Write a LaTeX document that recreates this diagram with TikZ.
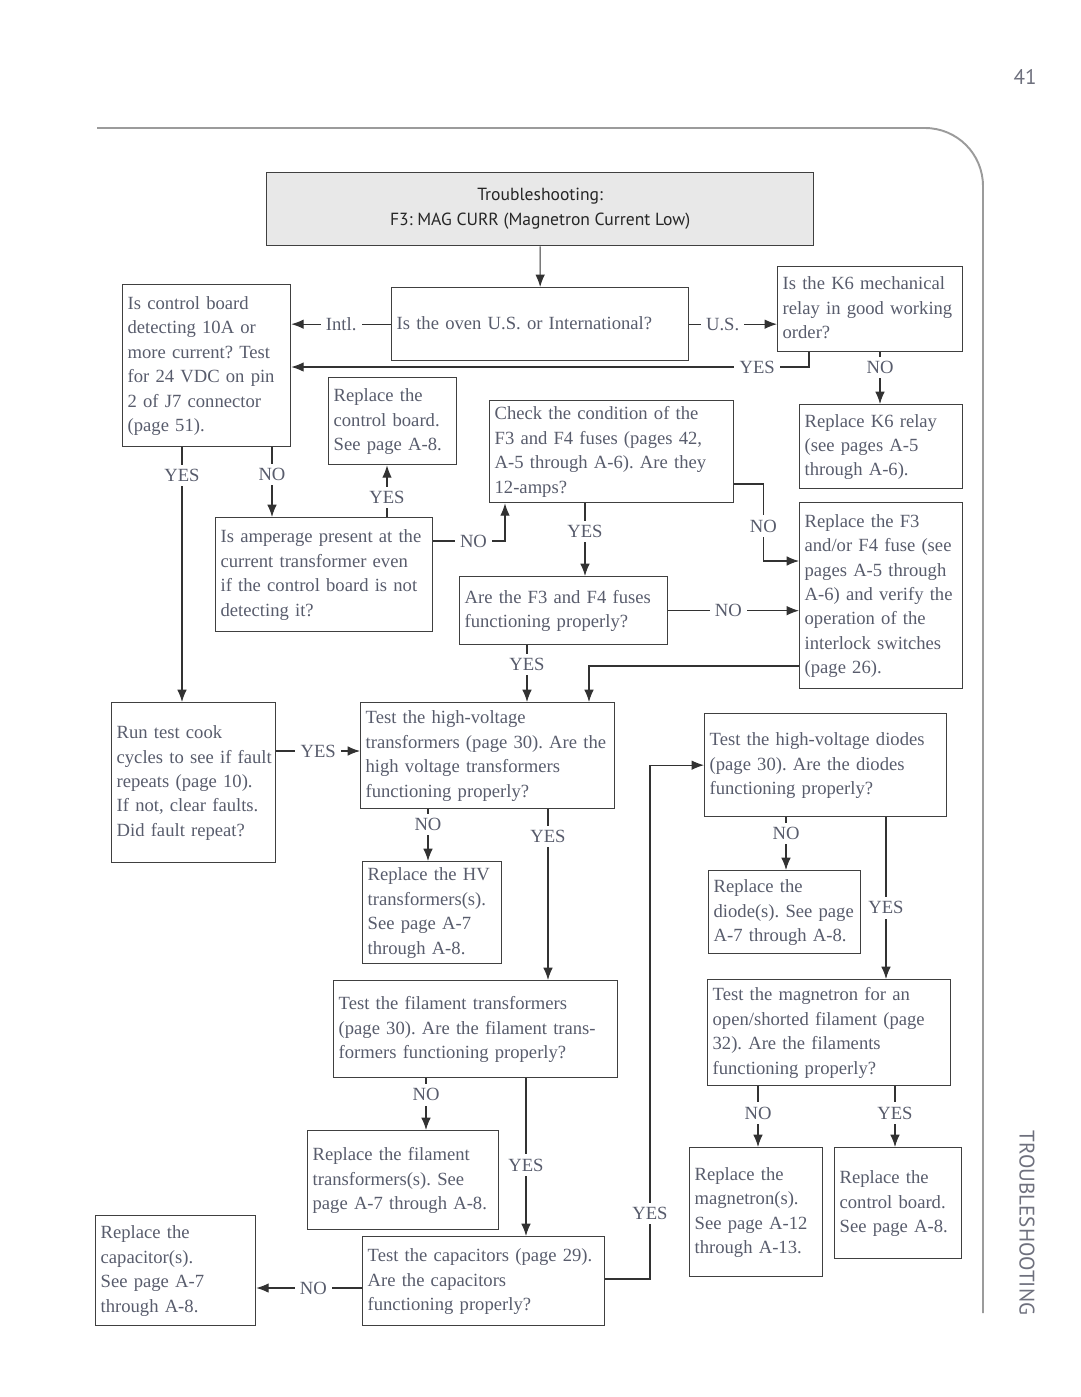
\documentclass[tikz,border=0pt]{standalone}
\usepackage{fontspec}
\setmainfont{Liberation Serif}
\newfontfamily\titlesans{PT Sans}
\usetikzlibrary{arrows.meta}
\frenchspacing

\definecolor{txtgray}{RGB}{88,92,108}
\definecolor{boxgray}{RGB}{64,64,64}
\definecolor{linegray}{RGB}{50,50,50}
\definecolor{framegray}{RGB}{155,155,155}
\definecolor{pagegray}{RGB}{110,112,125}
\definecolor{titlefill}{RGB}{232,232,232}

\newcommand{\bodyfont}{\fontsize{10.6}{13.9}\selectfont}
% lines of a box, never broken
\newcommand{\boxlines}[1]{\begin{tabular}{@{}l@{}}#1\end{tabular}}

\tikzset{
  box/.style 2 args={draw=boxgray, line width=0.75pt, anchor=north west,
    inner xsep=0.1cm, inner ysep=0pt, minimum width=#1*0.02cm,
    minimum height=#2*0.02cm, text width=#1*0.02cm-0.2cm, align=left,
    text=txtgray, font=\bodyfont},
  titlebox/.style={draw=boxgray, line width=0.75pt, fill=titlefill, anchor=north west,
    minimum width=547*0.02cm, minimum height=73*0.02cm, align=center,
    text=black!85, font=\titlesans\fontsize{10}{14.2}\selectfont},
  lbl/.style={fill=white, inner xsep=3pt, inner ysep=2.5pt, text=txtgray, font=\bodyfont},
  arr/.style={draw=linegray, line width=0.6pt, -{Latex[length=7pt,width=5.4pt]}},
  pagetext/.style={text=pagegray, font=\titlesans\fontsize{12}{13}\selectfont},
}

\begin{document}
\begin{tikzpicture}[x=0.02cm, y=-0.02cm]
    \useasboundingbox (0,0) rectangle (1080,1397);

    % Page frame, number and tab text
    \draw[framegray, line width=1.1pt] (97,128) -- (925,128)
        arc[start angle=90, end angle=0, radius=1.16cm] -- (983,1313);
    \node[pagetext] (pagenum) at (1025,77) {41};
    \node[pagetext, rotate=-90] (sidetab) at (1027,1223) {TROUBLESHOOTING};

    % Title
    \node[titlebox] (title) at (266,172) {Troubleshooting:\\F3: MAG CURR (Magnetron Current Low)};

    % Top row
    \node[box={297}{73}] (oven) at (391,287) {\boxlines{Is the oven U.S. or International?}};
    \node[box={168}{162}] (board) at (122,284) {\boxlines{Is control board\\detecting 10A or\\more current? Test\\for 24 VDC on pin\\2 of J7 connector\\(page 51).}};
    \node[box={185}{85}] (relay) at (777,266) {\boxlines{Is the K6 mechanical\\relay in good working\\order?}};
    \node[box={163}{84}] (replK6) at (799,404) {\boxlines{Replace K6 relay\\(see pages A-5\\through A-6).}};

    % Fuse checks
    \node[box={128}{87}] (replboardA) at (328,377) {\boxlines{Replace the\\control board.\\See page A-8.}};
    \node[box={244}{102}] (fuses) at (489,400) {\boxlines{Check the condition of the\\F3 and F4 fuses (pages 42,\\A-5 through A-6). Are they\\12-amps?}};
    \node[box={217}{114}] (amps) at (215,517) {\boxlines{Is amperage present at the\\current transformer even\\if the control board is not\\detecting it?}};
    \node[box={208}{68}] (fuseok) at (459,576) {\boxlines{Are the F3 and F4 fuses\\functioning properly?}};
    \node[box={163}{186}] (replfuse) at (799,502) {\boxlines{Replace the F3\\and/or F4 fuse (see\\pages A-5 through\\A-6) and verify the\\operation of the\\interlock switches\\(page 26).}};

    % Transformers and diodes
    \node[box={164}{160}] (testcook) at (111,702) {\boxlines{Run test cook\\cycles to see if fault\\repeats (page 10).\\If not, clear faults.\\Did fault repeat?}};
    \node[box={254}{106}] (hvtrans) at (360,702) {\boxlines{Test the high-voltage\\transformers (page 30). Are the\\high voltage transformers\\functioning properly?}};
    \node[box={139}{102}] (replhv) at (362,861) {\boxlines{Replace the HV\\transformers(s).\\See page A-7\\through A-8.}};
    \node[box={242}{103}] (diodes) at (704,713) {\boxlines{Test the high-voltage diodes\\(page 30). Are the diodes\\functioning properly?}};
    \node[box={152}{83}] (repldiode) at (708,870) {\boxlines{Replace the\\diode(s). See page\\A-7 through A-8.}};

    % Filaments, magnetron and capacitors
    \node[box={284}{97}] (filament) at (333,980) {\boxlines{Test the filament transformers\\(page 30). Are the filament trans-\\formers functioning properly?}};
    \node[box={243}{106}] (magnetron) at (707,979) {\boxlines{Test the magnetron for an\\open/shorted filament (page\\32). Are the filaments\\functioning properly?}};
    \node[box={191}{99}] (replfil) at (307,1130) {\boxlines{Replace the filament\\transformers(s). See\\page A-7 through A-8.}};
    \node[box={160}{110}] (replcap) at (95,1215) {\boxlines{Replace the\\capacitor(s).\\See page A-7\\through A-8.}};
    \node[box={242}{89}] (caps) at (362,1236) {\boxlines{Test the capacitors (page 29).\\Are the capacitors\\functioning properly?}};
    \node[box={133}{129}] (replmag) at (689,1147) {\boxlines{Replace the\\magnetron(s).\\See page A-12\\through A-13.}};
    \node[box={127}{111}] (replboardB) at (834,1147) {\boxlines{Replace the\\control board.\\See page A-8.}};

    % Connectors, top part
    \draw[arr] (title.south) -- (oven.north);
    \draw[arr] (oven.west) -- node[lbl]{Intl.} (board.east |- oven.west);
    \draw[arr] (oven.east) -- node[lbl, pos=0.38]{U.S.} (relay.west |- oven.east);
    \draw[arr] (relay.south west) ++(32,0) |- node[lbl, pos=0.55]{YES} (board.east |- 0,367);
    \draw[arr] (relay.south -| 880,0) -- node[lbl, pos=0.3]{NO} (replK6.north -| 880,0);
    \draw[arr] (board.south -| 182,0) -- node[lbl, pos=0.11]{YES} (testcook.north -| 182,0);
    \draw[arr] (board.south -| 272,0) -- node[lbl, pos=0.39]{NO} (amps.north -| 272,0);
    \draw[arr] (amps.north -| 387,0) -- node[lbl, pos=0.38]{YES} (replboardA.south -| 387,0);
    \draw[arr] (amps.east |- 0,541) -| node[lbl, pos=0.28]{NO} (fuses.south -| 505,0);

    % Connectors, fuses
    \draw[arr] (fuses.south -| 585,0) -- node[lbl, pos=0.39]{YES} (fuseok.north -| 585,0);
    \draw[arr] (fuses.east |- 0,484) -| ++(29,42) node[lbl]{NO} |- (replfuse.west |- 0,561);
    \draw[arr] (fuseok.east) -- node[lbl, pos=0.46]{NO} (replfuse.west |- fuseok.east);
    \draw[arr] (fuseok.south -| 527,0) -- node[lbl, pos=0.34]{YES} (hvtrans.north -| 527,0);
    \draw[arr] (replfuse.west |- 0,666) -| (hvtrans.north -| 589,0);

    % Connectors, transformers and diodes
    \draw[arr] (testcook.east |- 0,751) -- node[lbl]{YES} (hvtrans.west |- 0,751);
    \draw[arr] (hvtrans.south -| 428,0) -- node[lbl, pos=0.3]{NO} (replhv.north -| 428,0);
    \draw[arr] (hvtrans.south -| 548,0) -- node[lbl, pos=0.16]{YES} (filament.north -| 548,0);
    \draw[arr] (filament.south -| 426,0) -- node[lbl, pos=0.32]{NO} (replfil.north -| 426,0);
    \draw[arr] (filament.south -| 526,0) -- node[lbl, pos=0.55]{YES} (caps.north -| 526,0);
    \draw[arr] (caps.west |- 0,1288) -- node[lbl, pos=0.46]{NO} (replcap.east |- 0,1288);
    \draw[arr] (caps.east |- 0,1279) -| node[lbl, pos=0.564]{YES} (diodes.west -| 650,0) -- (diodes.west);
    \draw[arr] (diodes.south -| 786,0) -- node[lbl, pos=0.31]{NO} (repldiode.north -| 786,0);
    \draw[arr] (diodes.south -| 886,0) -- node[lbl, pos=0.56]{YES} (magnetron.north -| 886,0);
    \draw[arr] (magnetron.south -| 758,0) -- node[lbl, pos=0.44]{NO} (replmag.north -| 758,0);
    \draw[arr] (magnetron.south -| 895,0) -- node[lbl, pos=0.44]{YES} (replboardB.north -| 895,0);
\end{tikzpicture}
\end{document}
